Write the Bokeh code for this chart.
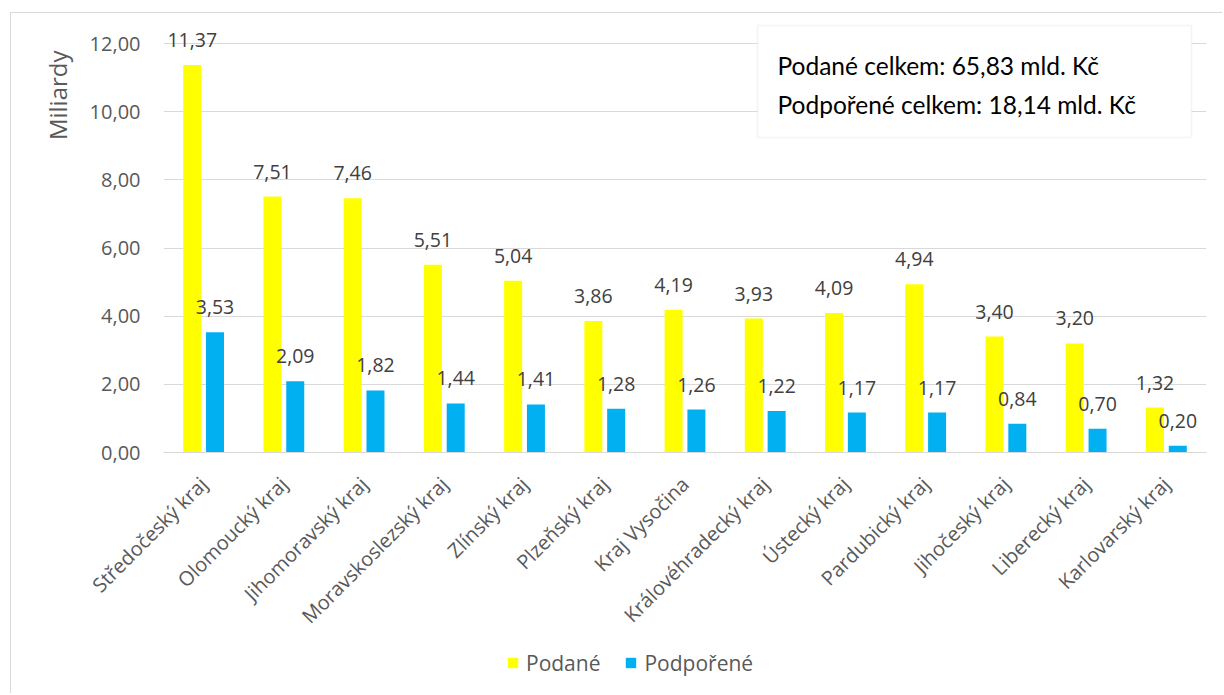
import numpy as np
from bokeh.plotting import figure
from bokeh.layouts import column
from bokeh.models import (ColumnDataSource, Range1d, FixedTicker, LabelSet, Label,
                          BoxAnnotation, Legend, LegendItem, Title)
from bokeh.core.properties import value
from bokeh.embed import file_html
from bokeh.resources import INLINE

# ---------------- data ----------------
categories = ["Středočeský kraj", "Olomoucký kraj", "Jihomoravský kraj",
              "Moravskoslezský kraj", "Zlínský kraj", "Plzeňský kraj",
              "Kraj Vysočina", "Královéhradecký kraj", "Ústecký kraj",
              "Pardubický kraj", "Jihočeský kraj", "Liberecký kraj",
              "Karlovarský kraj"]
podane = [11.37, 7.51, 7.46, 5.51, 5.04, 3.86, 4.19, 3.93, 4.09, 4.94, 3.40, 3.20, 1.32]
podporene = [3.53, 2.09, 1.82, 1.44, 1.41, 1.28, 1.26, 1.22, 1.17, 1.17, 0.84, 0.70, 0.20]
series_names = ["Podané", "Podpořené"]
y_ticks = [0, 2, 4, 6, 8, 10, 12]
y_tick_labels = ["0,00", "2,00", "4,00", "6,00", "8,00", "10,00", "12,00"]
y_axis_title = "Miliardy"
box_lines = ["Podané celkem: 65,83 mld. Kč", "Podpořené celkem: 18,14 mld. Kč"]

# ---------------- layout helpers (page pixels -> plot coords) ----------------
CANVAS_X0, CANVAS_Y0 = 11.0, 13.0
FRAME_L, FRAME_R = 163.0, 1206.0
FRAME_T, FRAME_B = 14.0, 452.0
Y12_PX = 43.0
MAIN_H = 632
LEG_H = 48
n = len(categories)
px_per_x = (FRAME_R - FRAME_L) / n
px_per_y = (FRAME_B - Y12_PX) / 12.0
def xd(px):
    return (px - FRAME_L) / px_per_x - 0.5
def yd(py):
    return (FRAME_B - py) / px_per_y

YELLOW = "#FFFF00"
BLUE = "#00B0F0"
GRID = "#D9D9D9"
AXIS_TXT = "#595959"
VAL_TXT = "#404040"

def fmt(v):
    return f"{v:.2f}".replace(".", ",")

idx = np.arange(n)
off = 11.4 / px_per_x
bw = 18.0 / px_per_x

src = ColumnDataSource(dict(
    xa=idx - off, xb=idx + off,
    podane=podane, podporene=podporene,
    la=[fmt(v) for v in podane], lb=[fmt(v) for v in podporene],
))

p = figure(width=1211, height=MAIN_H, output_backend="svg", toolbar_location=None,
           x_range=Range1d(-0.5, n - 0.5),
           y_range=Range1d(0, yd(FRAME_T)),
           min_border_left=int(FRAME_L - CANVAS_X0),
           min_border_right=int(CANVAS_X0 + 1211 - FRAME_R),
           min_border_top=int(FRAME_T - CANVAS_Y0),
           min_border_bottom=int(CANVAS_Y0 + MAIN_H - FRAME_B))
p.outline_line_color = None
p.background_fill_color = "white"
p.border_fill_color = "white"

r1 = p.vbar(x="xa", top="podane", width=bw, source=src, fill_color=YELLOW, line_color=None)
r2 = p.vbar(x="xb", top="podporene", width=bw, source=src, fill_color=BLUE, line_color=None)

# grid
p.xgrid.visible = False
p.ygrid.ticker = FixedTicker(ticks=y_ticks)
p.ygrid.grid_line_color = GRID
p.ygrid.grid_line_width = 1

# y axis
p.yaxis.ticker = FixedTicker(ticks=y_ticks)
p.yaxis.major_label_overrides = {t: l for t, l in zip(y_ticks, y_tick_labels)}
p.yaxis.axis_line_color = None
p.yaxis.major_tick_line_color = None
p.yaxis.minor_tick_line_color = None
p.yaxis.major_tick_out = 0
p.yaxis.major_tick_in = 0
p.yaxis.major_label_standoff = 23
p.yaxis.major_label_text_font = "Open Sans"
p.yaxis.major_label_text_font_size = "20px"
p.yaxis.major_label_text_color = AXIS_TXT

# x axis
p.xaxis.ticker = FixedTicker(ticks=list(idx))
p.xaxis.major_label_overrides = {int(i): c for i, c in zip(idx, categories)}
p.xaxis.major_label_orientation = np.pi / 4
p.xaxis.axis_line_color = GRID
p.xaxis.axis_line_width = 1
p.xaxis.major_tick_line_color = None
p.xaxis.minor_tick_line_color = None
p.xaxis.major_tick_out = 0
p.xaxis.major_tick_in = 0
p.xaxis.major_label_standoff = 28
p.xaxis.major_label_text_font = "Open Sans"
p.xaxis.major_label_text_font_size = "20px"
p.xaxis.major_label_text_color = AXIS_TXT

# value labels
for xcol, ycol, tcol in [("xa", "podane", "la"), ("xb", "podporene", "lb")]:
    ls = LabelSet(x=xcol, y=ycol, text=tcol, source=src, y_offset=18,
                  text_align="center", text_baseline="alphabetic",
                  text_font=value("Open Sans"), text_font_size=value("19.5px"),
                  text_color=VAL_TXT)
    p.add_layout(ls)

# y-axis title (left side panel, placed near the top)
p.add_layout(Title(text=y_axis_title, align="right", offset=36, standoff=26,
                   text_font="Open Sans", text_font_size="24px",
                   text_font_style="normal", text_color=AXIS_TXT), "left")

# info box
p.add_layout(BoxAnnotation(left=xd(757), right=xd(1191), top=yd(25), bottom=yd(137),
                           fill_color="white", fill_alpha=1.0,
                           line_color=GRID, line_width=1.5, level="overlay"))
for txt, base in zip(box_lines, [65, 103.5]):
    p.add_layout(Label(x=xd(777), y=yd(base), text=txt, text_align="left",
                       text_baseline="alphabetic", text_font="Lato",
                       text_font_size="24.5px", text_color="#000000", level="overlay"))

# ---------------- legend strip (separate figure below the chart) ----------------
# its frame is aligned with the main frame by the column layout;
# the series renderers there are hidden, only their legend entries are drawn
pl = figure(width=1211, height=LEG_H, output_backend="svg", toolbar_location=None,
            x_axis_type=None, y_axis_type=None,
            x_range=Range1d(-0.5, n - 0.5), y_range=Range1d(0, 1),
            min_border=0, min_border_left=0, min_border_right=0,
            min_border_top=0, min_border_bottom=0)
pl.outline_line_color = None
pl.background_fill_color = "white"
pl.border_fill_color = "white"
lr1 = pl.vbar(x="xa", top="podane", width=bw, source=src, fill_color=YELLOW,
              line_color=None, visible=False)
lr2 = pl.vbar(x="xb", top="podporene", width=bw, source=src, fill_color=BLUE,
              line_color=None, visible=False)
legend = Legend(items=[LegendItem(label=series_names[0], renderers=[lr1]),
                       LegendItem(label=series_names[1], renderers=[lr2])],
                orientation="horizontal",
                location=(506 - FRAME_L, LEG_H - 18 - 13.5),
                border_line_color=None, background_fill_alpha=0,
                inactive_fill_alpha=0,
                padding=0, margin=0, spacing=24, label_standoff=7,
                glyph_width=13, glyph_height=13, label_height=20,
                label_text_font="Open Sans", label_text_font_size="21px",
                label_text_color=AXIS_TXT)
pl.add_layout(legend)

layout = column(p, pl, spacing=0,
                styles={"margin-left": "10px", "margin-top": "12px",
                        "border-left": "1px solid #D9D9D9",
                        "border-top": "1px solid #D9D9D9"})

open("out.html", "w").write(file_html(layout, INLINE))
